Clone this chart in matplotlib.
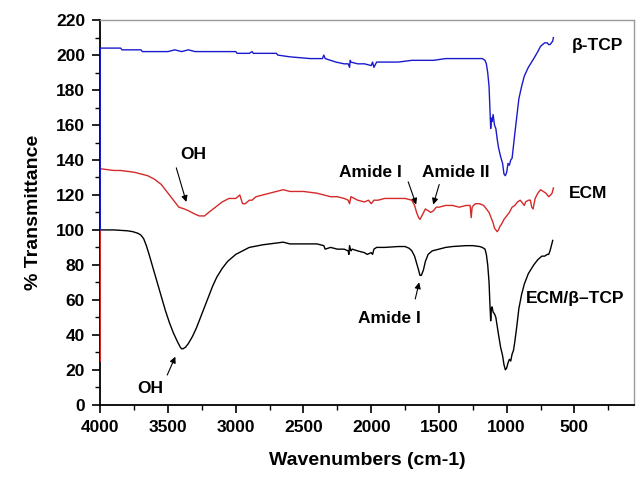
import matplotlib
matplotlib.use("Agg")
import matplotlib.pyplot as plt
from matplotlib.ticker import MultipleLocator

plt.rcParams['font.family'] = ['Liberation Sans', 'DejaVu Sans']
plt.rcParams['font.weight'] = 'bold'

# beta-TCP spectrum (wavenumber, %T)
tcp_wn = [4000, 4000, 3990, 3850, 3840, 3700, 3690, 3500, 3450, 3400, 3350, 3300,
          3000, 2990, 2900, 2880, 2870, 2700, 2690, 2600, 2450, 2360, 2350, 2340,
          2300, 2260, 2200, 2170, 2160, 2155, 2150, 2100, 2050, 2000, 1990, 1980,
          1960, 1900, 1800, 1700, 1550, 1540, 1450, 1300, 1250, 1200, 1180, 1160,
          1150, 1140, 1130, 1125, 1118, 1113, 1108, 1100, 1090, 1080, 1070, 1060,
          1045, 1030, 1020, 1010, 1000, 990, 980, 970, 960, 950, 940, 925, 910,
          890, 870, 840, 800, 770, 750, 720, 700, 690, 680, 670, 660, 655]
tcp_t = [100, 204, 204, 204, 203, 203, 202, 202, 203, 202, 203, 202,
         202, 201, 201, 202, 201, 201, 200, 199, 198, 198, 200, 198,
         197, 196, 195, 195, 193, 197, 196, 195, 195, 194, 196, 193,
         196, 196, 196, 197, 197, 197, 198, 198, 198, 198, 198, 197,
         195, 190, 182, 172, 158, 164, 162, 166, 160, 158, 152, 147,
         142, 138, 132, 131, 133, 138, 137, 140, 141, 148, 155, 165, 175,
         182, 188, 193, 198, 202, 205, 207, 207, 206, 206, 207, 208, 210]

# ECM spectrum
ecm_wn = [4000, 4000, 3900, 3850, 3750, 3700, 3650, 3600, 3550, 3500, 3450, 3420,
          3380, 3350, 3300, 3270, 3230, 3200, 3150, 3100, 3050, 3000, 2970, 2950,
          2930, 2900, 2880, 2850, 2800, 2750, 2700, 2650, 2600, 2500, 2400, 2350,
          2300, 2250, 2200, 2170, 2160, 2150, 2100, 2050, 2020, 2000, 1980, 1950,
          1900, 1800, 1750, 1700, 1680, 1665, 1650, 1640, 1620, 1600, 1580, 1560,
          1540, 1520, 1500, 1450, 1400, 1350, 1300, 1270, 1262, 1255, 1245, 1230,
          1200, 1170, 1150, 1130, 1110, 1100, 1090, 1080, 1070, 1060, 1050, 1040,
          1020, 1000, 980, 960, 940, 920, 900, 880, 870, 860, 840, 825, 815, 805,
          790, 770, 750, 730, 710, 690, 675, 665, 655]
ecm_t = [25, 135, 134, 134, 133, 132, 131, 129, 126, 121, 116, 113,
         112, 111, 109, 108, 108, 110, 113, 116, 118, 118, 120, 115,
         115, 117, 117, 119, 120, 121, 122, 123, 122, 122, 121, 120,
         119, 119, 118, 117, 115, 119, 117, 116, 117, 115, 117, 117,
         118, 118, 118, 117, 114, 110, 107, 106, 109, 112, 111, 110,
         111, 113, 113, 114, 114, 113, 114, 114, 107, 113, 114, 115,
         115, 114, 112, 110, 106, 104, 101, 100, 99, 100, 102, 103,
         106, 108, 110, 113, 114, 116, 117, 115, 114, 116, 117, 117, 113, 112,
         118, 121, 123, 122, 121, 119, 120, 121, 124]

# ECM/beta-TCP spectrum
mix_wn = [4000, 3900, 3800, 3760, 3720, 3700, 3680, 3660, 3640, 3610, 3580, 3550,
          3520, 3490, 3460, 3430, 3410, 3400, 3390, 3370, 3350, 3320, 3290, 3260,
          3230, 3200, 3170, 3140, 3100, 3060, 3000, 2950, 2900, 2800, 2700, 2650,
          2600, 2500, 2400, 2350, 2340, 2300, 2250, 2200, 2170, 2165, 2160, 2150,
          2140, 2100, 2050, 2030, 2000, 1990, 1980, 1960, 1900, 1800, 1750, 1720,
          1700, 1680, 1665, 1650, 1640, 1630, 1615, 1600, 1580, 1550, 1500, 1450,
          1400, 1300, 1250, 1200, 1180, 1160, 1150, 1140, 1130, 1125, 1118, 1113,
          1108, 1100, 1090, 1080, 1070, 1060, 1045, 1030, 1020, 1010, 1000, 990,
          980, 970, 960, 950, 940, 925, 910, 890, 870, 840, 800, 770, 740, 720,
          700, 690, 680, 670, 660]
mix_t = [100, 100, 99.5, 99, 98, 97, 95, 91, 86, 78, 70, 62,
         54, 47, 41, 36, 33, 32, 32, 33, 35, 39, 44, 50,
         56, 62, 68, 73, 78, 82, 86, 88, 90, 91.5, 92.5, 93,
         92, 92, 92, 91, 89, 90, 89, 89, 88, 86, 91, 88,
         89, 88, 87, 86, 87, 86, 89, 90, 90, 90.5, 90.5, 89.5,
         88, 85, 81, 77, 74, 74, 77, 82, 86, 88, 89, 90,
         90.5, 91, 91, 90.5, 90, 89, 86, 80, 70, 60, 48, 55,
         56, 53, 52, 50, 45, 40, 33, 28, 23, 20, 21, 24,
         26, 25, 29, 31, 36, 45, 55, 63, 69, 75, 80, 83, 85, 85,
         86, 86, 88, 91, 94]

# text labels: (text, x, y) and arrows: (tail x, tail y, head x, head y)
curve_labels = [("\u03b2-TCP", 332, 205.5), ("ECM", 399, 121),
                ("ECM/\u03b2\u2013TCP", 494, 60.5)]
peak_labels = [("OH", 3314, 143), ("Amide I", 2007, 133), ("Amide II", 1373, 133),
               ("Amide I", 1867, 49.5), ("OH", 3631, 9.5)]
peak_arrows = [(3439, 135.5, 3365, 116), (1727, 127.5, 1668, 114.5),
               (1498, 126, 1542, 114.5), (1675, 60.5, 1646, 70), (3506, 17, 3446, 27.5)]

fig = plt.figure(figsize=(6.43, 4.79), dpi=100)
ax = fig.add_axes([0.156, 0.155, 0.83, 0.803])

ax.plot(mix_wn, mix_t, color='black', lw=1.0, zorder=3)
ax.plot(ecm_wn, ecm_t, color='#d42a2a', lw=1.0, zorder=4)
ax.plot(tcp_wn, tcp_t, color='#1a1acc', lw=1.0, zorder=5)

ax.set_xlim(4000, 60)
ax.set_ylim(0, 220)
ax.xaxis.set_major_locator(MultipleLocator(500))
ax.xaxis.set_minor_locator(MultipleLocator(250))
ax.yaxis.set_major_locator(MultipleLocator(20))
ax.yaxis.set_minor_locator(MultipleLocator(10))
ax.tick_params(which='major', direction='out', length=6, width=1.2,
               labelsize=12.5, pad=5)
ax.tick_params(which='minor', direction='out', length=3.5, width=1.0)
ax.set_xticks([4000, 3500, 3000, 2500, 2000, 1500, 1000, 500])

for side in ['left', 'bottom']:
    ax.spines[side].set_linewidth(1.3)
for side in ['top', 'right']:
    ax.spines[side].set_color('#9a9a9a')
    ax.spines[side].set_linewidth(1.0)

ax.set_xlabel('Wavenumbers (cm-1)', fontsize=14, fontweight='bold', labelpad=12)
ax.set_ylabel('% Transmittance', fontsize=14, fontweight='bold', labelpad=10)

for txt, x, y in curve_labels + peak_labels:
    ax.text(x, y, txt, fontsize=12.5, fontweight='bold', ha='center', va='center')

for x0, y0, x1, y1 in peak_arrows:
    ax.annotate('', xy=(x1, y1), xytext=(x0, y0),
                arrowprops=dict(arrowstyle='-|>', color='black', lw=0.8,
                                mutation_scale=9, shrinkA=0, shrinkB=0))

fig.savefig('out.png', dpi=100)
